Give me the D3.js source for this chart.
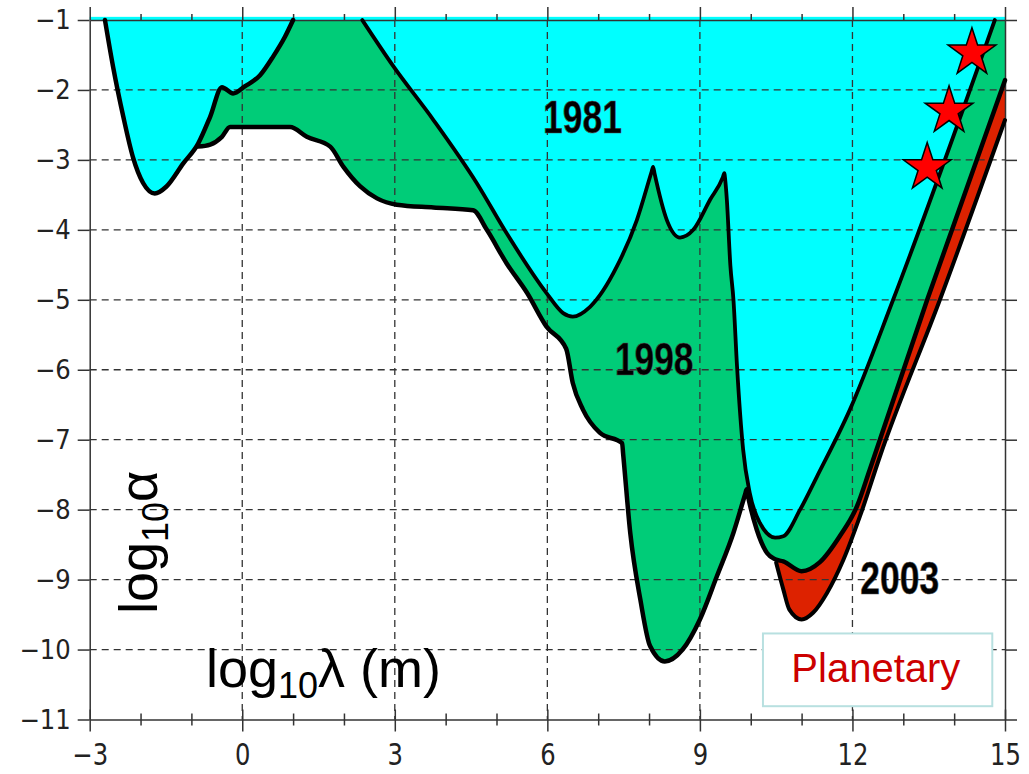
<!DOCTYPE html>
<html>
<head>
<meta charset="utf-8">
<script src="https://cdn.jsdelivr.net/npm/d3@7"></script>
<style>
  body { margin: 0; background: #fff; }
  svg { display: block; }
</style>
</head>
<body>
<div id="chart"></div>
<script>
// 1981 limits (two pieces, cyan region above them)
var curve1981a = [
  [-2.70, -1.00], [-2.54, -1.67], [-2.34, -2.38], [-2.15, -2.96], [-1.95, -3.33],
  [-1.72, -3.48], [-1.49, -3.38], [-1.16, -3.05], [-0.87, -2.77], [-0.63, -2.38],
  [-0.40, -1.96], [-0.18, -2.05], [0.05, -1.95], [0.35, -1.79], [0.61, -1.52],
  [0.84, -1.24], [1.00, -1.00]
];
var curve1981b = [
  [2.36, -1.00], [2.97, -1.66], [3.76, -2.43], [4.61, -3.33], [5.20, -4.05],
  [5.98, -4.90], [6.31, -5.19], [6.50, -5.24], [6.84, -5.10], [7.37, -4.52],
  [7.76, -3.86], [8.05, -3.17], [8.08, -3.10], [8.11, -3.20], [8.35, -3.86],
  [8.61, -4.11], [8.87, -4.00], [9.20, -3.57], [9.45, -3.25], [9.48, -3.19],
  [9.50, -3.30], [9.53, -3.57], [9.60, -4.52], [9.66, -5.00], [9.73, -5.95],
  [9.85, -7.14], [9.98, -7.76], [10.18, -8.19], [10.48, -8.40], [10.64, -8.38],
  [10.97, -8.00], [11.30, -7.53], [11.95, -6.57], [12.80, -5.00], [14.80, -1.00]
];
// 1998 limit (green region between 1981 and 1998)
var curve1998 = [
  [-0.87, -2.81], [-0.63, -2.78], [-0.40, -2.67], [-0.24, -2.53], [0.94, -2.53],
  [1.27, -2.67], [1.73, -2.81], [1.99, -3.10], [2.32, -3.38], [2.65, -3.55],
  [3.04, -3.64], [3.76, -3.68], [4.54, -3.72], [4.81, -4.00], [5.20, -4.48],
  [5.60, -4.90], [5.98, -5.38], [6.37, -5.70], [6.50, -6.19], [6.70, -6.57],
  [7.03, -6.90], [7.47, -7.05], [7.49, -7.20], [7.63, -8.33], [7.83, -9.29],
  [8.02, -9.95], [8.31, -10.17], [8.66, -10.00], [9.00, -9.57], [9.33, -8.96],
  [9.66, -8.33], [9.89, -7.78], [9.92, -7.71], [9.95, -7.82], [10.12, -8.29],
  [10.32, -8.62], [10.48, -8.71], [10.64, -8.74], [11.00, -8.88], [11.36, -8.75],
  [11.75, -8.38], [12.09, -7.95], [12.34, -7.43], [13.47, -5.00], [15.00, -1.86]
];
// 2003 limit (red region between 1998 and 2003)
var curve2003 = [
  [10.50, -8.76], [10.64, -9.14], [10.76, -9.43], [11.00, -9.57], [11.23, -9.47],
  [11.50, -9.19], [11.82, -8.72], [12.15, -8.09], [12.54, -7.24], [13.72, -5.00],
  [15.00, -2.43]
];
// planetary measurements
var stars = [[14.35, -1.47], [13.90, -2.30], [13.47, -3.11]];

var yearLabels = [
  { text: "1981", x: 6.69, y: -2.61 },
  { text: "1998", x: 8.10, y: -6.07 },
  { text: "2003", x: 12.93, y: -9.21 }
];

var xTicks = [-3, 0, 3, 6, 9, 12, 15];
var yTicks = d3.range(-11, 0);

var width = 1029, height = 774;
var x = d3.scaleLinear().domain([-3, 15]).range([89.7, 1005]);
var y = d3.scaleLinear().domain([-1, -11]).range([20, 719.5]);

var svg = d3.select("#chart").append("svg")
  .attr("width", width)
  .attr("height", height);

var minus = d => String(d).replace("-", "\u2212");

// thin cyan strip above the top frame
svg.append("rect")
  .attr("x", x(-3)).attr("y", y(-0.955))
  .attr("width", x(15) - x(-3)).attr("height", y(-1) - y(-0.955))
  .attr("fill", "#00ffff");

function area(data) {
  return d3.area().curve(d3.curveMonotoneX)
    .x(d => x(d[0])).y0(y(-1)).y1(d => y(d[1]))(data);
}
var line = d3.line().curve(d3.curveMonotoneX).x(d => x(d[0])).y(d => y(d[1]));

svg.append("path").attr("d", area(curve2003)).attr("fill", "#dd2200");
svg.append("path").attr("d", area(curve1998)).attr("fill", "#00cc78");
svg.append("path").attr("d", area(curve1981a)).attr("fill", "#00ffff");
svg.append("path").attr("d", area(curve1981b)).attr("fill", "#00ffff");

// dashed grid
var grid = svg.append("g")
  .attr("stroke", "#333")
  .attr("stroke-width", 1.3)
  .attr("stroke-dasharray", "7,5");
grid.selectAll(".gx").data([0, 3, 6, 9, 12]).enter().append("line")
  .attr("x1", d => x(d)).attr("x2", d => x(d))
  .attr("y1", y(-1)).attr("y2", y(-11));
grid.selectAll(".gy").data(d3.range(-10, -1)).enter().append("line")
  .attr("x1", x(-3)).attr("x2", x(15))
  .attr("y1", d => y(d)).attr("y2", d => y(d));

// axes
function styleAxis(g) {
  g.selectAll("path, line").attr("stroke", "#333").attr("stroke-width", 1.5);
  g.selectAll("text").attr("fill", "#222")
    .attr("font-family", "'DejaVu Sans Condensed', 'DejaVu Sans', sans-serif");
}

var minorX = d3.range(-3, 16).filter(d => d % 3 !== 0);

svg.append("g").attr("transform", "translate(0," + y(-11) + ")")
  .call(d3.axisBottom(x).tickValues(xTicks).tickSize(12).tickSizeOuter(0).tickPadding(12.5).tickFormat(minus))
  .call(styleAxis)
  .call(g => g.selectAll("text").attr("font-size", 30).attr("transform", "scale(0.9,1)"));
svg.append("g").attr("transform", "translate(0," + (y(-11) + 6) + ")")
  .call(d3.axisBottom(x).tickValues(minorX).tickSize(-12).tickFormat(""))
  .call(styleAxis)
  .call(g => g.select(".domain").remove());
svg.append("g").attr("transform", "translate(0," + y(-11) + ")")
  .call(d3.axisBottom(x).tickValues(xTicks).tickSize(-10).tickSizeOuter(0).tickFormat(""))
  .call(styleAxis)
  .call(g => g.select(".domain").remove());

svg.append("g").attr("transform", "translate(0," + y(-1) + ")")
  .call(d3.axisTop(x).tickValues(xTicks).tickSize(13).tickSizeOuter(0).tickFormat(""))
  .call(styleAxis);
svg.append("g").attr("transform", "translate(0," + y(-1) + ")")
  .call(d3.axisTop(x).tickValues(minorX).tickSize(6).tickFormat(""))
  .call(styleAxis)
  .call(g => g.select(".domain").remove());

svg.append("g").attr("transform", "translate(" + x(-3) + ",0)")
  .call(d3.axisLeft(y).tickValues(yTicks).tickSize(12).tickSizeOuter(0).tickPadding(7).tickFormat(minus))
  .call(styleAxis)
  .call(g => g.selectAll("text").attr("font-size", 27));
svg.append("g").attr("transform", "translate(" + x(15) + ",0)")
  .call(d3.axisRight(y).tickValues(yTicks).tickSize(12).tickSizeOuter(0).tickFormat(""))
  .call(styleAxis);

// curve outlines
function outline(data, w) {
  svg.append("path").attr("d", line(data))
    .attr("fill", "none").attr("stroke", "#000")
    .attr("stroke-width", w).attr("stroke-linejoin", "round").attr("stroke-linecap", "round");
}
outline(curve2003, 4);
outline(curve1998, 4.5);
outline(curve1981a, 4.5);
outline(curve1981b, 3.8);

// stars
svg.selectAll(".star").data(stars).enter().append("path")
  .attr("class", "star")
  .attr("d", d3.symbol(d3.symbolStar, 710))
  .attr("transform", d => "translate(" + x(d[0]) + "," + y(d[1]) + ")")
  .attr("fill", "#ff0000")
  .attr("stroke", "#000")
  .attr("stroke-width", 1.5);

// year labels
svg.selectAll(".year").data(yearLabels).enter().append("text")
  .attr("class", "year")
  .attr("transform", d => "translate(" + x(d.x) + "," + y(d.y) + ") scale(0.77,1)")
  .attr("text-anchor", "middle")
  .attr("font-family", "'Liberation Sans', Arial, sans-serif")
  .attr("font-weight", "bold")
  .attr("font-size", 46)
  .attr("fill", "#000")
  .attr("stroke", "#555")
  .attr("stroke-width", 0.6)
  .text(d => d.text);

// planetary box
svg.append("rect")
  .attr("x", x(10.24)).attr("y", y(-9.77))
  .attr("width", x(14.75) - x(10.24)).attr("height", y(-10.81) - y(-9.77))
  .attr("fill", "#fff").attr("stroke", "#b8e0e0").attr("stroke-width", 2);
svg.append("text")
  .attr("x", x(12.46)).attr("y", y(-10.47))
  .attr("text-anchor", "middle")
  .attr("font-family", "'Liberation Sans', Arial, sans-serif")
  .attr("font-size", 40)
  .attr("fill", "#cc0000")
  .text("Planetary");

// axis titles inside the plot
var xt = svg.append("text")
  .attr("x", 206).attr("y", 687)
  .attr("font-family", "'Liberation Sans', Arial, sans-serif")
  .attr("font-size", 54)
  .attr("fill", "#000");
xt.append("tspan").text("log");
xt.append("tspan").attr("font-size", 36).attr("dy", 11).text("10");
xt.append("tspan").attr("dy", -11).text("\u03bb (m)");

var yt = svg.append("text")
  .attr("transform", "translate(157,614) rotate(-90)")
  .attr("font-family", "'Liberation Sans', Arial, sans-serif")
  .attr("font-size", 54)
  .attr("fill", "#000");
yt.append("tspan").text("log");
yt.append("tspan").attr("font-size", 36).attr("dy", 11).text("10");
yt.append("tspan").attr("dy", -11).text("\u03b1");
</script>
</body>
</html>
